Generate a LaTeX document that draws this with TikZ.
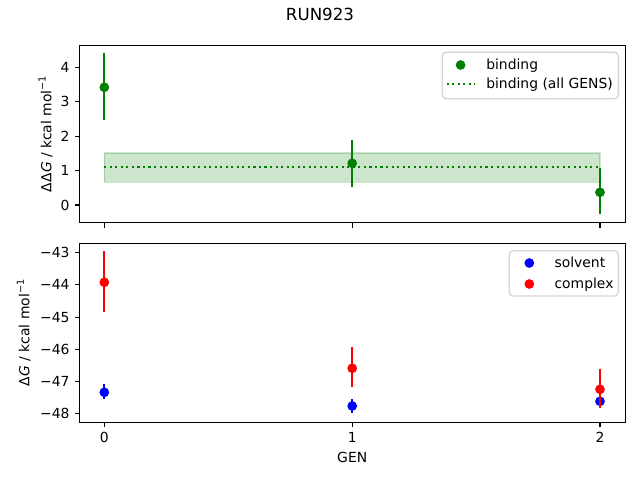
\documentclass[tikz,border=0pt]{standalone}
\usepackage{fontspec}
\setmainfont{DejaVu Sans}
\begin{document}
\begin{tikzpicture}[x=0.01in,y=-0.01in,
  spine/.style={line width=0.8bp,black},
  tickmark/.style={line width=0.8bp,black},
  ticklab/.style={font=\fontsize{10bp}{12bp}\selectfont,inner sep=0pt},
  errbar/.style={line width=1.5bp},
  dot/.style={circle,inner sep=0pt,minimum size=7bp},
  legframe/.style={draw=black!20,fill=white,fill opacity=0.8,draw opacity=0.8,line width=1bp,rounded corners=2.8bp},
  legtext/.style={font=\fontsize{10bp}{12bp}\selectfont,inner sep=0pt,anchor=base west},
  meanline/.style={line width=1.5bp,green!50!black,dash pattern=on 1.5bp off 2.475bp},
]
\definecolor{mplgreen}{HTML}{008000}
\definecolor{mplblue}{HTML}{0000FF}
\definecolor{mplred}{HTML}{FF0000}
\useasboundingbox[fill=white] (0,0) rectangle (640,480);

% title
\node[font=\fontsize{12bp}{14bp}\selectfont,inner sep=0pt,anchor=base] (title) at (320,21) {RUN923};

% ===== top panel =====
\fill[mplgreen,opacity=0.2] (104.3,152.9) rectangle (600,182.5);
\draw[mplgreen,opacity=0.2,line width=1bp] (104.3,152.9) rectangle (600,182.5);
\draw[meanline,mplgreen] (104.3,166.7) -- (600,166.7);
\draw[errbar,mplgreen] (104.3,53.3) -- (104.3,120.3);
\draw[errbar,mplgreen] (352.2,140) -- (352.2,186.7);
\draw[errbar,mplgreen] (600,167.7) -- (600,214);
\node[dot,fill=mplgreen] (g0) at (104.3,87.3) {};
\node[dot,fill=mplgreen] (g1) at (352.2,163.3) {};
\node[dot,fill=mplgreen] (g2) at (600,192.3) {};
\draw[spine] (79.5,45.3) rectangle (625.7,222.7);
% top ticks
\foreach \yy/\lab in {205/0,170.6/1,136.2/2,101.8/3,67.4/4}{
  \draw[tickmark] (79.5,\yy) -- ++(-3.5bp,0);
  \node[ticklab,anchor=east] at (69.8,\yy) {\lab};
}
\foreach \xx in {104.3,352.2,600}{
  \draw[tickmark] (\xx,222.7) -- ++(0,-3.5bp);
}
\node[rotate=90,font=\fontsize{10bp}{12bp}\selectfont,inner sep=0pt] (ylab1) at (45.5,134)
  {ΔΔ\textit{G} / kcal mol\raisebox{0.75ex}{\fontsize{7bp}{8bp}\selectfont −1}};

% top legend
\draw[legframe] (442.3,52.3) rectangle (618.3,98.7);
\node[dot,fill=mplgreen] (lg1) at (460.6,65) {};
\node[legtext] (lt1) at (486,69.4) {binding};
\coordinate (ld1) at (446.7,84.3);
\coordinate (ld2) at (474.5,84.3);
\draw[meanline,mplgreen] (ld1) -- (ld2);
\node[legtext] (lt2) at (486,88.7) {binding (all GENS)};

% ===== bottom panel =====
\draw[errbar,mplblue] (104.3,384) -- (104.3,399.3);
\draw[errbar,mplblue] (352.2,399) -- (352.2,413.3);
\draw[errbar,mplblue] (600,398.3) -- (600,404.3);
\node[dot,fill=mplblue] (b0) at (104.3,392.3) {};
\node[dot,fill=mplblue] (b1) at (352.2,406) {};
\node[dot,fill=mplblue] (b2) at (600,401.3) {};
\draw[errbar,mplred] (104.3,251) -- (104.3,312.3);
\draw[errbar,mplred] (352.2,346.7) -- (352.2,387.3);
\draw[errbar,mplred] (600,369.3) -- (600,408.3);
\node[dot,fill=mplred] (r0) at (104.3,282.3) {};
\node[dot,fill=mplred] (r1) at (352.2,368.3) {};
\node[dot,fill=mplred] (r2) at (600,389.3) {};
\draw[spine] (79.5,243.3) rectangle (625.7,422.3);
\foreach \yy/\lab in {252.7/43,284.9/44,317.1/45,349.3/46,381.5/47,413.7/48}{
  \draw[tickmark] (79.5,\yy) -- ++(-3.5bp,0);
  \node[ticklab,anchor=east] at (69.8,\yy) {−\lab};
}
\foreach \xx/\lab in {104.3/0,352.2/1,600/2}{
  \draw[tickmark] (\xx,422.3) -- ++(0,-3.5bp);
  \node[ticklab] at (\xx,437.7) {\lab};
}
\node[font=\fontsize{10bp}{12bp}\selectfont,inner sep=0pt,anchor=base] (xlab) at (352.2,462.5) {GEN};
\node[rotate=90,font=\fontsize{10bp}{12bp}\selectfont,inner sep=0pt] (ylab2) at (23.7,332.8)
  {Δ\textit{G} / kcal mol\raisebox{0.75ex}{\fontsize{7bp}{8bp}\selectfont −1}};

% bottom legend
\draw[legframe] (509.3,250.7) rectangle (618.3,296);
\node[dot,fill=mplblue] (lb) at (529.3,263) {};
\node[legtext] (lt3) at (554.3,267.6) {solvent};
\node[dot,fill=mplred] (lr) at (529.3,284) {};
\node[legtext] (lt4) at (554.3,288.6) {complex};
\end{tikzpicture}
\end{document}
